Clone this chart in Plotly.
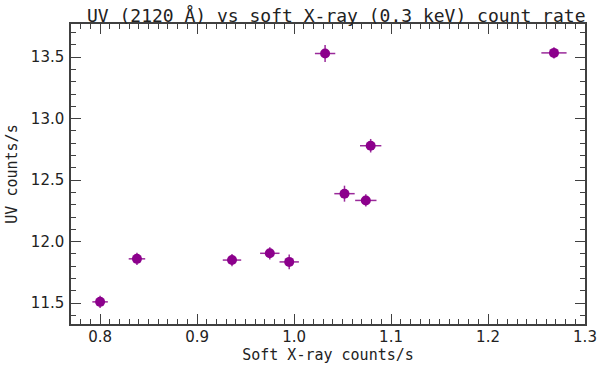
import plotly.graph_objects as go

# soft X-ray (0.3 keV) and UV (2120 A) count rates
xray_rate = [0.800, 0.838, 0.936, 0.975, 0.995, 1.032, 1.052, 1.079, 1.074, 1.268]
xray_err = [0.008, 0.0085, 0.0095, 0.010, 0.010, 0.0105, 0.0105, 0.011, 0.011, 0.013]
uv_rate = [11.51, 11.86, 11.85, 11.905, 11.835, 13.53, 12.39, 12.78, 12.335, 13.535]
uv_err = [0.05, 0.05, 0.05, 0.05, 0.06, 0.07, 0.065, 0.055, 0.05, 0.045]

x_ticks = [0.8, 0.9, 1.0, 1.1, 1.2, 1.3]
y_ticks = [11.5, 12.0, 12.5, 13.0, 13.5]

purple = '#8C008C'
frame = '#404040'
tick_font = dict(family='DejaVu Sans', size=15, color='#222222')
# IDL's vector font is wide and short, a monospace face gets closest
label_font = dict(family='DejaVu Sans Mono', size=15, color='#222222')

fig = go.Figure()
fig.add_trace(go.Scatter(
    x=xray_rate, y=uv_rate, mode='markers',
    marker=dict(color=purple, size=10),
    error_x=dict(type='data', array=xray_err, color='#9A2A9A', thickness=1.5, width=0),
    error_y=dict(type='data', array=uv_err, color='#9A2A9A', thickness=1.5, width=0),
    showlegend=False,
))

axis_style = dict(
    showline=True, linecolor=frame, linewidth=1.5, mirror='allticks',
    ticks='inside', ticklen=10, tickwidth=1.2, tickcolor=frame,
    showgrid=False, zeroline=False, tickfont=tick_font, automargin=False,
)

fig.update_xaxes(
    range=[0.77, 1.3], tickvals=x_ticks, ticktext=['%.1f' % v for v in x_ticks],
    minor=dict(dtick=0.01, tick0=0.77, ticks='inside', ticklen=5, tickcolor=frame, showgrid=False),
    title=dict(text='Soft X-ray counts/s', font=label_font, standoff=4),
    ticklabelstandoff=-2,
    **axis_style,
)
fig.update_yaxes(
    range=[11.33, 13.77], tickvals=y_ticks, ticktext=['%.1f' % v for v in y_ticks],
    minor=dict(dtick=0.1, tick0=11.3, ticks='inside', ticklen=5, tickcolor=frame, showgrid=False),
    title=dict(text='UV counts/s', font=label_font, standoff=10),
    ticklabelstandoff=2,
    **axis_style,
)

fig.update_layout(
    width=600, height=374,
    margin=dict(l=71, r=15, t=24, b=50),
    paper_bgcolor='white', plot_bgcolor='white',
    title=dict(text='UV (2120 Å) vs soft X-ray (0.3 keV) count rate',
               font=dict(family='DejaVu Sans Mono', size=18, color='#222222'),
               x=0.516, xref='paper', xanchor='center', y=0.957, yref='container', yanchor='middle'),
)

# drop the default 8 px body margin so the figure fills the window
fig.write_html("out.html", config={'displayModeBar': False},
               post_script="document.body.style.margin = '0';")
